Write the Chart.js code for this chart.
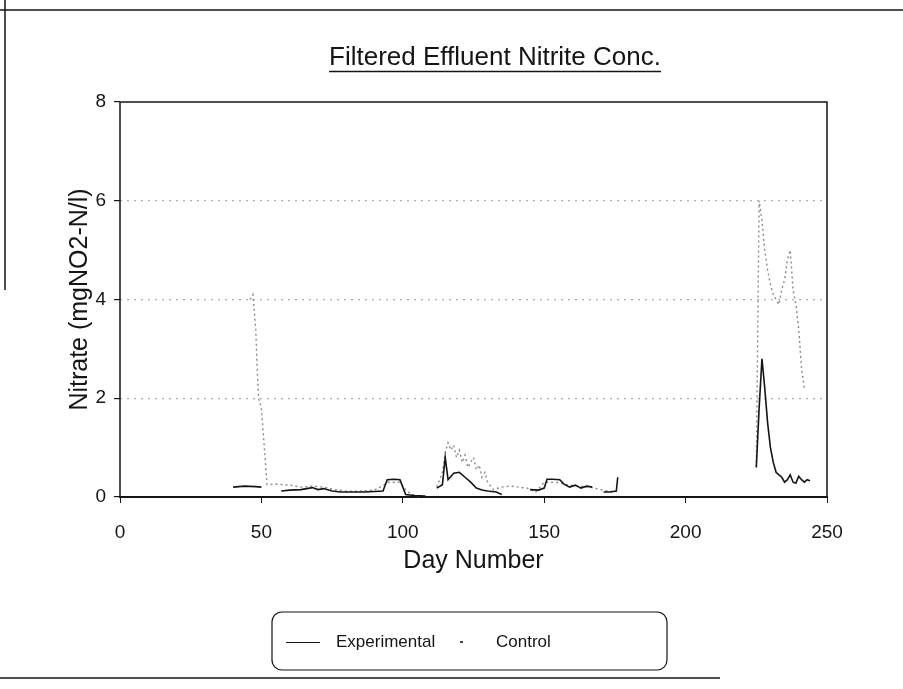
<!DOCTYPE html>
<html>
<head>
<meta charset="utf-8">
<script src="https://cdn.jsdelivr.net/npm/chart.js@4.4.1/dist/chart.umd.min.js"></script>
<style>
  html, body { margin: 0; padding: 0; background: #fff; }
  #wrap { width: 903px; height: 689px; }
</style>
</head>
<body>
<div id="wrap"><canvas id="nitriteChart" width="903" height="689"></canvas></div>
<script>
const chartTitle = 'Filtered Effluent Nitrite Conc.';
const xTitle = 'Day Number';
const yTitle = 'Nitrate (mgNO2-N/l)';
const xTicks = [0, 50, 100, 150, 200, 250];
const yTicks = [0, 2, 4, 6, 8];

// experimental (solid), null = gap in record
const expDays = [40, 44, 48, 50, 53, 57, 60, 64, 68, 70, 72, 75, 78, 82, 86, 90, 93, 94.5, 97, 99, 100, 101, 104, 108, 110,
  112, 114, 115, 116, 118, 120, 122, 124, 126, 128, 130, 133, 135, 140,
  145, 148, 150, 151, 153, 155.5, 157, 159, 161, 163, 165, 167, 169,
  171, 173, 175.5, 176, 178,
  225, 226, 227, 228, 229, 230, 231, 232, 233, 234, 235, 236, 237, 238, 239, 240, 241, 242, 243, 244];
const expValues = [0.2, 0.22, 0.21, 0.2, null, 0.12, 0.14, 0.15, 0.19, 0.15, 0.17, 0.12, 0.1, 0.1, 0.1, 0.11, 0.12, 0.35, 0.36, 0.35, 0.2, 0.05, 0.03, 0.02, null,
  0.18, 0.25, 0.8, 0.35, 0.48, 0.5, 0.4, 0.3, 0.18, 0.14, 0.12, 0.1, 0.05, null,
  0.15, 0.14, 0.18, 0.36, 0.36, 0.35, 0.26, 0.2, 0.24, 0.18, 0.22, 0.2, null,
  0.1, 0.1, 0.12, 0.4, null,
  0.6, 1.8, 2.8, 2.2, 1.5, 1.0, 0.7, 0.5, 0.45, 0.4, 0.3, 0.35, 0.45, 0.3, 0.28, 0.42, 0.35, 0.3, 0.35, 0.33];

// control (dotted grey)
const ctrlDays = [46, 47, 48, 48.5, 49, 50, 52, 56, 60, 64, 68, 72, 76, 80, 85, 90, 95, 99, 101, 103, 106, 109,
  112, 114, 115, 116, 117, 118, 119, 120, 121, 122, 123, 124, 125, 126, 127, 128, 129, 130, 132, 135, 138, 141, 144, 147,
  150, 154, 158, 162, 166, 170, 174, 177,
  225, 226, 227, 228, 229, 230, 231, 232, 233, 234, 235, 236, 237, 238, 239, 240, 241, 242];
const ctrlValues = [4.0, 4.1, 3.4, 2.6, 2.0, 1.8, 0.25, 0.26, 0.24, 0.2, 0.22, 0.2, 0.15, 0.12, 0.12, 0.14, 0.3, 0.3, 0.15, 0.05, 0.02, null,
  0.2, 0.5, 0.9, 1.1, 0.95, 1.05, 0.8, 0.95, 0.7, 0.85, 0.6, 0.7, 0.8, 0.55, 0.65, 0.4, 0.5, 0.3, 0.15, 0.2, 0.22, 0.2, 0.18, 0.1,
  0.3, 0.3, 0.25, 0.22, 0.2, 0.15, 0.1, null,
  0.6, 6.0, 5.6, 5.0, 4.6, 4.3, 4.1, 4.0, 3.9, 4.2, 4.4, 4.8, 5.0, 4.2, 3.9, 3.4, 2.6, 2.2];

const ink = '#151515';
const fontFam = "'Liberation Sans', Arial, sans-serif";

function toPoints(days, vals) {
  return days.map((d, i) => ({ x: d, y: vals[i] }));
}

const decorations = {
  id: 'decorations',
  afterDraw(chart) {
    const c = chart.ctx;
    const a = chart.chartArea;
    c.save();
    // plot box: left axis, top, right
    c.strokeStyle = ink;
    c.lineWidth = 1.5;
    c.beginPath();
    c.moveTo(a.left, a.bottom);
    c.lineTo(a.left, a.top);
    c.lineTo(a.right, a.top);
    c.lineTo(a.right, a.bottom);
    c.stroke();

    // page frame
    c.beginPath();
    c.moveTo(0, 10); c.lineTo(903, 10);
    c.moveTo(5, 0); c.lineTo(5, 290);
    c.moveTo(0, 678); c.lineTo(720, 678);
    c.stroke();

    // title, underlined
    c.fillStyle = ink;
    c.font = '26px ' + fontFam;
    c.textAlign = 'center';
    c.textBaseline = 'alphabetic';
    c.fillText(chartTitle, 495, 65);
    const w = c.measureText(chartTitle).width;
    c.beginPath();
    c.moveTo(495 - w / 2, 71.5);
    c.lineTo(495 + w / 2, 71.5);
    c.stroke();

    // legend box
    const lx = 272, ly = 612, lw = 395, lh = 58, r = 10;
    c.lineWidth = 1.2;
    c.beginPath();
    c.moveTo(lx + r, ly);
    c.arcTo(lx + lw, ly, lx + lw, ly + lh, r);
    c.arcTo(lx + lw, ly + lh, lx, ly + lh, r);
    c.arcTo(lx, ly + lh, lx, ly, r);
    c.arcTo(lx, ly, lx + lw, ly, r);
    c.closePath();
    c.stroke();
    const ds = chart.data.datasets;
    c.font = '17px ' + fontFam;
    c.textAlign = 'left';
    c.textBaseline = 'middle';
    c.lineWidth = 1;
    c.beginPath();
    c.moveTo(286, 642.5); c.lineTo(320, 642.5);
    c.stroke();
    c.fillText(ds[0].label, 336, 642);
    c.fillStyle = '#444';
    c.fillRect(460, 641, 3, 2);
    c.fillStyle = ink;
    c.fillText(ds[1].label, 496, 642);
    c.restore();
  }
};

new Chart(document.getElementById('nitriteChart'), {
  type: 'line',
  data: {
    datasets: [
      {
        label: 'Experimental',
        data: toPoints(expDays, expValues),
        borderColor: ink,
        borderWidth: 1.6,
        pointRadius: 0,
        tension: 0,
        spanGaps: false
      },
      {
        label: 'Control',
        data: toPoints(ctrlDays, ctrlValues),
        borderColor: '#8a8a8a',
        borderWidth: 1.4,
        borderDash: [2, 3],
        pointRadius: 0,
        tension: 0,
        spanGaps: false
      }
    ]
  },
  options: {
    responsive: false,
    animation: false,
    devicePixelRatio: 1,
    layout: { padding: { left: 65, top: 102, right: 76, bottom: 113 } },
    plugins: { legend: { display: false }, title: { display: false }, tooltip: { enabled: false } },
    scales: {
      x: {
        type: 'linear',
        min: 0,
        max: 250,
        afterBuildTicks: s => { s.ticks = xTicks.map(v => ({ value: v })); },
        afterFit: s => { s.height = 79; },
        ticks: { color: ink, font: { family: fontFam, size: 19 }, padding: 18, maxRotation: 0 },
        grid: { drawOnChartArea: false, tickLength: 6, tickColor: ink },
        border: { color: ink, width: 2 },
        title: { display: true, text: xTitle, color: ink, font: { family: fontFam, size: 25 }, padding: 0 }
      },
      y: {
        min: 0,
        max: 8,
        afterBuildTicks: s => { s.ticks = yTicks.map(v => ({ value: v })); },
        afterFit: s => { s.width = 55; },
        ticks: { color: ink, font: { family: fontFam, size: 19 }, padding: 8 },
        grid: {
          color: ctx => (ctx.tick && ctx.tick.value > 0 && ctx.tick.value < 8) ? 'rgba(110,110,110,0.55)' : 'rgba(0,0,0,0)',
          lineWidth: 1.2,
          tickLength: 6,
          tickColor: ink
        },
        border: { display: false, dash: [2, 5] },
        title: { display: true, text: yTitle, color: ink, font: { family: fontFam, size: 25 }, padding: 0 }
      }
    }
  },
  plugins: [decorations]
});
</script>
</body>
</html>
